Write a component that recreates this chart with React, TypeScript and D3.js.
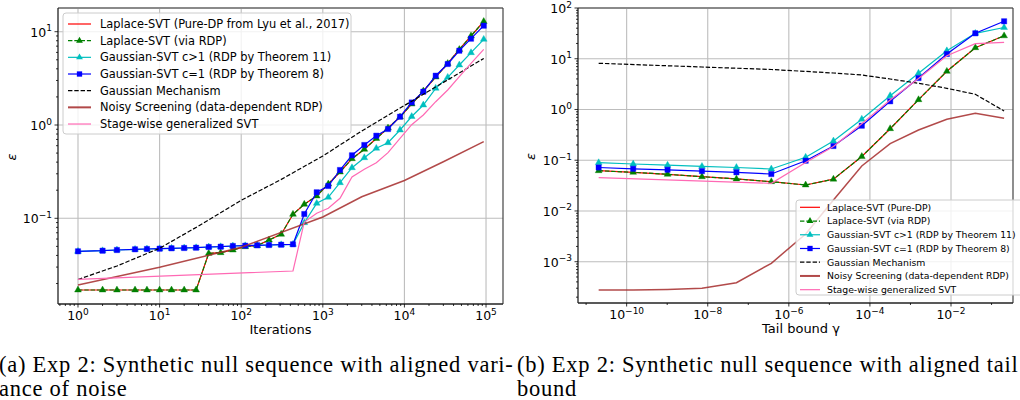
import React, { useEffect, useRef } from "react";
import * as d3 from "d3";

// ---------- panel (a): epsilon vs. number of iterations ----------
const iterations = [1, 2, 3, 5, 7, 10, 14, 20, 28, 40, 56, 79, 112, 157, 219, 309, 431, 593, 842, 1167, 1624, 2278, 3226, 4527, 6295, 8834, 12280, 17050, 24180, 33930, 47090, 65500, 93730];
const iterLaplacePure = [0.01704, 0.01704, 0.01704, 0.01704, 0.01704, 0.01704, 0.01704, 0.01704, 0.01704, 0.0421, 0.0428, 0.0457, 0.0496, 0.0509, 0.0585, 0.0674, 0.1104, 0.1413, 0.1734, 0.2332, 0.3134, 0.4353, 0.549, 0.7166, 0.9286, 1.218, 1.679, 2.314, 3.269, 4.563, 6.446, 8.993, 12.86];
const iterLaplaceRdp = [0.01704, 0.01704, 0.01704, 0.01704, 0.01704, 0.01704, 0.01704, 0.01704, 0.01704, 0.0421, 0.0428, 0.0457, 0.0496, 0.0509, 0.0585, 0.0674, 0.1104, 0.1413, 0.1734, 0.2332, 0.3134, 0.4353, 0.549, 0.7166, 0.9286, 1.218, 1.679, 2.314, 3.269, 4.563, 6.446, 8.993, 12.86];
const iterGaussC2 = [0.04428, 0.04494, 0.04572, 0.04652, 0.04688, 0.04723, 0.0477, 0.04805, 0.04841, 0.04925, 0.04962, 0.05048, 0.05085, 0.05136, 0.05174, 0.05212, 0.05264, 0.0897, 0.1448, 0.1679, 0.2407, 0.3485, 0.4461, 0.5627, 0.6461, 0.8839, 1.233, 1.638, 2.474, 3.245, 4.396, 5.956, 8.287];
const iterGaussC1 = [0.04428, 0.04494, 0.04572, 0.04652, 0.04688, 0.04723, 0.0477, 0.04805, 0.04841, 0.04925, 0.04962, 0.05048, 0.05085, 0.05136, 0.05174, 0.05212, 0.05264, 0.1112, 0.19, 0.222, 0.3294, 0.4735, 0.6105, 0.7677, 0.906, 1.227, 1.743, 2.275, 3.376, 4.506, 6.256, 8.414, 11.6];
const iterMechX = [1, 3, 10, 30, 100, 300, 1000, 3000, 10000, 93730];
const iterMech = [0.02208, 0.03083, 0.0477, 0.0827, 0.156, 0.2573, 0.4653, 0.8625, 1.618, 5.163];
const iterScreenX = [1, 10, 100, 1000, 3000, 10000, 30000, 93730];
const iterScreen = [0.01928, 0.02985, 0.04891, 0.1033, 0.17, 0.254, 0.404, 0.6624];
const iterStageX = [1, 431, 593, 842, 1167, 1624, 2278, 3226, 4527, 6295, 8834, 12280, 17050, 24180, 33930, 47090, 65500, 93730];
const iterStage = [0.02219, 0.02724, 0.0913, 0.1132, 0.128, 0.1638, 0.2772, 0.3351, 0.3944, 0.5048, 0.7202, 1.007, 1.28, 1.777, 2.372, 3.294, 4.585, 6.478];

// ---------- panel (b): epsilon vs. tail bound gamma ----------
const gammas = [2.04e-11, 1.45e-10, 1.02e-9, 7.2e-9, 5.1e-8, 3.7e-7, 2.6e-6, 1.26e-5, 6.3e-5, 3.16e-4, 1.58e-3, 7.9e-3, 3.98e-2, 0.204];
const tailLaplacePure = [0.0621, 0.0578, 0.0528, 0.0473, 0.0427, 0.0377, 0.0325, 0.0423, 0.1184, 0.418, 1.559, 5.655, 16.5, 28.3];
const tailLaplaceRdp = [0.0621, 0.0578, 0.0528, 0.0473, 0.0427, 0.0377, 0.0325, 0.0423, 0.1184, 0.418, 1.559, 5.655, 16.5, 28.3];
const tailGaussC2 = [0.0893, 0.0842, 0.0797, 0.0755, 0.0719, 0.0671, 0.1142, 0.2392, 0.6433, 1.869, 5.166, 14.34, 31.7, 41.3];
const tailGaussC1 = [0.0719, 0.0678, 0.0648, 0.061, 0.0578, 0.0535, 0.0978, 0.1906, 0.479, 1.45, 4.172, 12.4, 31.7, 54.7];
const tailMechX = [2.04e-11, 7.2e-9, 3.7e-7, 1.26e-5, 6.3e-5, 3.16e-4, 1.58e-3, 7.9e-3, 3.98e-2, 0.204];
const tailMech = [8.131, 6.875, 6.137, 5.236, 4.781, 3.988, 3.281, 2.615, 1.992, 0.933];
const tailScreen = [2.77e-4, 2.77e-4, 2.83e-4, 2.99e-4, 3.86e-4, 9.3e-4, 3.52e-3, 0.01644, 0.0769, 0.2117, 0.394, 0.643, 0.841, 0.67];
const tailStageX = [2.04e-11, 3.7e-7, 2.6e-6, 1.26e-5, 6.3e-5, 3.16e-4, 1.58e-3, 7.9e-3, 3.98e-2, 0.204];
const tailStage = [0.0452, 0.0351, 0.0901, 0.1864, 0.5246, 1.538, 4.078, 11.43, 19.79, 21.09];

const labelsA = [
  "Laplace-SVT (Pure-DP from Lyu et al., 2017)",
  "Laplace-SVT (via RDP)",
  "Gaussian-SVT c>1 (RDP by Theorem 11)",
  "Gaussian-SVT c=1 (RDP by Theorem 8)",
  "Gaussian Mechanism",
  "Noisy Screening (data-dependent RDP)",
  "Stage-wise generalized SVT",
];
const labelsB = [
  "Laplace-SVT (Pure-DP)",
  "Laplace-SVT (via RDP)",
  "Gaussian-SVT c>1 (RDP by Theorem 11)",
  "Gaussian-SVT c=1 (RDP by Theorem 8)",
  "Gaussian Mechanism",
  "Noisy Screening (data-dependent RDP)",
  "Stage-wise generalized SVT",
];

const styles = [
  { color: "#ff0000", width: 1.2 },
  { color: "#008000", width: 1.2, dash: "4.4,1.9", marker: "tri" },
  { color: "#00bfbf", width: 1.2, marker: "tri" },
  { color: "#0000ff", width: 1.2, marker: "sq" },
  { color: "#000000", width: 1.2, dash: "4.4,1.9" },
  { color: "#a52a2a", width: 1.5, opacity: 0.85 },
  { color: "#ff69b4", width: 1.2 },
];

const FONT = "DejaVu Sans";

function drawPanel(svg, p) {
  const x = d3.scaleLog().domain(p.xDomain).range([p.left, p.right]);
  const y = d3.scaleLog().domain(p.yDomain).range([p.bottom, p.top]);
  const g = svg.append("g");

  // grid
  g.selectAll(".gx").data(p.xMajor).enter().append("line")
    .attr("x1", d => x(10 ** d)).attr("x2", d => x(10 ** d))
    .attr("y1", p.top).attr("y2", p.bottom)
    .attr("stroke", "#bdbdbd").attr("stroke-width", 1.1);
  g.selectAll(".gy").data(p.yMajor).enter().append("line")
    .attr("y1", d => y(10 ** d)).attr("y2", d => y(10 ** d))
    .attr("x1", p.left).attr("x2", p.right)
    .attr("stroke", "#bdbdbd").attr("stroke-width", 1.1);

  // series
  const line = d3.line().x(d => x(d[0])).y(d => y(d[1]));
  p.series.forEach((s, i) => {
    const st = styles[i];
    const pts = s.xs.map((v, j) => [v, s.ys[j]]);
    g.append("path").datum(pts).attr("d", line)
      .attr("fill", "none").attr("stroke", st.color)
      .attr("stroke-width", st.width)
      .attr("stroke-dasharray", st.dash || null)
      .attr("opacity", st.opacity || 1);
    if (st.marker) {
      const sym = d3.symbol()
        .type(st.marker === "tri" ? d3.symbolTriangle : d3.symbolSquare)
        .size(st.marker === "tri" ? 20 : 28);
      g.selectAll(null).data(pts).enter().append("path")
        .attr("d", sym)
        .attr("transform", d => `translate(${x(d[0])},${y(d[1])})`)
        .attr("fill", st.color).attr("stroke", st.color).attr("stroke-width", 0.4);
    }
  });

  // spines
  g.append("line").attr("x1", p.left).attr("x2", p.right).attr("y1", p.top).attr("y2", p.top)
    .attr("stroke", "#8a8a8a").attr("stroke-width", 2);
  g.append("line").attr("x1", p.right).attr("x2", p.right).attr("y1", p.top).attr("y2", p.bottom)
    .attr("stroke", "#444").attr("stroke-width", 1.2);
  g.append("line").attr("x1", p.left).attr("x2", p.right).attr("y1", p.bottom).attr("y2", p.bottom)
    .attr("stroke", "#222").attr("stroke-width", 1.3);
  g.append("line").attr("x1", p.left).attr("x2", p.left).attr("y1", p.top).attr("y2", p.bottom)
    .attr("stroke", "#222").attr("stroke-width", 1.3);

  // ticks
  const tick = (vals, len, isX) => {
    vals.forEach(v => {
      if (isX) {
        const px = x(v);
        g.append("line").attr("x1", px).attr("x2", px).attr("y1", p.bottom).attr("y2", p.bottom + len)
          .attr("stroke", "#000").attr("stroke-width", 0.8);
      } else {
        const py = y(v);
        g.append("line").attr("y1", py).attr("y2", py).attr("x1", p.left).attr("x2", p.left - len)
          .attr("stroke", "#000").attr("stroke-width", 0.8);
      }
    });
  };
  tick(p.xMajor.map(d => 10 ** d), 3.5, true);
  tick(p.yMajor.map(d => 10 ** d), 3.5, false);
  tick(p.xMinor, 2, true);
  tick(p.yMinor, 2, false);

  const expLabel = (sel, e) => {
    sel.append("tspan").text("10");
    sel.append("tspan").attr("font-size", 9).attr("dy", -5.5)
      .text(e < 0 ? "\u2212" + Math.abs(e) : String(e));
  };
  p.xMajor.forEach(e => {
    const t = g.append("text").attr("x", x(10 ** e)).attr("y", p.bottom + 16)
      .attr("text-anchor", "middle").attr("font-family", FONT).attr("font-size", 12.5);
    expLabel(t, e);
  });
  p.yMajor.forEach(e => {
    const t = g.append("text").attr("x", p.left - 6).attr("y", y(10 ** e) + 5)
      .attr("text-anchor", "end").attr("font-family", FONT).attr("font-size", 12.5);
    expLabel(t, e);
  });

  // axis labels
  g.append("text").attr("x", p.xLabelX).attr("y", p.bottom + 30)
    .attr("text-anchor", "middle").attr("font-family", FONT).attr("font-size", 13)
    .text(p.xLabel);
  g.append("text").attr("transform", `translate(${p.yLabelX},${(p.top + p.bottom) / 2 + 1}) rotate(-90)`)
    .attr("text-anchor", "middle").attr("font-family", FONT).attr("font-size", 13)
    .attr("font-style", "italic").text("\u03b5");

  // legend
  const L = p.legend;
  g.append("rect").attr("x", L.x).attr("y", L.y).attr("width", L.w).attr("height", L.h)
    .attr("rx", 3).attr("fill", "#fff").attr("fill-opacity", 0.8)
    .attr("stroke", "#cccccc").attr("stroke-width", 1);
  p.labels.forEach((lab, i) => {
    const st = styles[i];
    const ly = L.y0 + i * L.step;
    g.append("line").attr("x1", L.lx0).attr("x2", L.lx1).attr("y1", ly).attr("y2", ly)
      .attr("stroke", st.color).attr("stroke-width", i === 5 ? 2 : st.width)
      .attr("stroke-dasharray", st.dash || null).attr("opacity", st.opacity || 1);
    if (st.marker) {
      const sym = d3.symbol()
        .type(st.marker === "tri" ? d3.symbolTriangle : d3.symbolSquare)
        .size(st.marker === "tri" ? 20 : 28);
      g.append("path").attr("d", sym).attr("transform", `translate(${(L.lx0 + L.lx1) / 2},${ly})`)
        .attr("fill", st.color);
    }
    g.append("text").attr("x", L.tx).attr("y", ly + L.fs * 0.36)
      .attr("font-family", FONT).attr("font-size", L.fs).text(lab);
  });
}

export default function App() {
  const ref = useRef(null);

  useEffect(() => {
    const svg = d3.select(ref.current);
    svg.selectAll("*").remove();

    drawPanel(svg, {
      left: 58, right: 503, top: 8, bottom: 304,
      xDomain: [10 ** -0.245, 10 ** 5.208],
      yDomain: [10 ** -1.9185, 10 ** 1.254],
      xMajor: [0, 1, 2, 3, 4, 5],
      yMajor: [-1, 0, 1],
      xMinor: [0.6, 0.7, 0.8, 0.9].concat(...[0, 1, 2, 3, 4].map(k => [2, 3, 4, 5, 6, 7, 8, 9].map(m => m * 10 ** k))),
      yMinor: [].concat(...[-2, -1, 0].map(k => [2, 3, 4, 5, 6, 7, 8, 9].map(m => m * 10 ** k))),
      xLabel: "Iterations", xLabelX: 280.5, yLabelX: 16.3,
      series: [
        { xs: iterations, ys: iterLaplacePure },
        { xs: iterations, ys: iterLaplaceRdp },
        { xs: iterations, ys: iterGaussC2 },
        { xs: iterations, ys: iterGaussC1 },
        { xs: iterMechX, ys: iterMech },
        { xs: iterScreenX, ys: iterScreen },
        { xs: iterStageX, ys: iterStage },
      ],
      labels: labelsA,
      legend: { x: 63, y: 13, w: 288, h: 121, y0: 24, step: 16.67, lx0: 68, lx1: 91, tx: 100, fs: 11.4 },
    });

    drawPanel(svg, {
      left: 578, right: 1013, top: 8, bottom: 303,
      xDomain: [10 ** -11.2, 10 ** -0.471],
      yDomain: [10 ** -3.814, 100],
      xMajor: [-10, -8, -6, -4, -2],
      yMajor: [-3, -2, -1, 0, 1, 2],
      xMinor: [-11, -9, -7, -5, -3, -1].map(k => 10 ** k),
      yMinor: [].concat(...[-4, -3, -2, -1, 0, 1].map(k => [2, 3, 4, 5, 6, 7, 8, 9].map(m => m * 10 ** k))).filter(v => v >= 10 ** -3.814 && v <= 100),
      xLabel: "Tail bound \u03b3", xLabelX: 801, yLabelX: 534.5,
      series: [
        { xs: gammas, ys: tailLaplacePure },
        { xs: gammas, ys: tailLaplaceRdp },
        { xs: gammas, ys: tailGaussC2 },
        { xs: gammas, ys: tailGaussC1 },
        { xs: tailMechX, ys: tailMech },
        { xs: gammas, ys: tailScreen },
        { xs: tailStageX, ys: tailStage },
      ],
      labels: labelsB,
      legend: { x: 796, y: 200, w: 230, h: 95, y0: 207.3, step: 13.73, lx0: 800, lx1: 820, tx: 827, fs: 9.3 },
    });

    // captions
    const cap = [
      { x: -1, y: 372, t: "(a) Exp 2: Synthetic null sequence with aligned vari-" },
      { x: -1, y: 396, t: "ance of noise" },
      { x: 517, y: 372, t: "(b) Exp 2: Synthetic null sequence with aligned tail" },
      { x: 517, y: 396, t: "bound" },
    ];
    svg.selectAll(".cap").data(cap).enter().append("text")
      .attr("x", d => d.x).attr("y", d => d.y)
      .attr("font-family", "Liberation Serif").attr("font-size", 22.5)
      .attr("letter-spacing", 0.75)
      .text(d => d.t);
  }, []);

  return (
    <div style={{ position: "absolute", left: 0, top: 0, width: 1020, height: 400, background: "#fff" }}>
      <svg ref={ref} width={1020} height={400} style={{ display: "block" }} />
    </div>
  );
}
